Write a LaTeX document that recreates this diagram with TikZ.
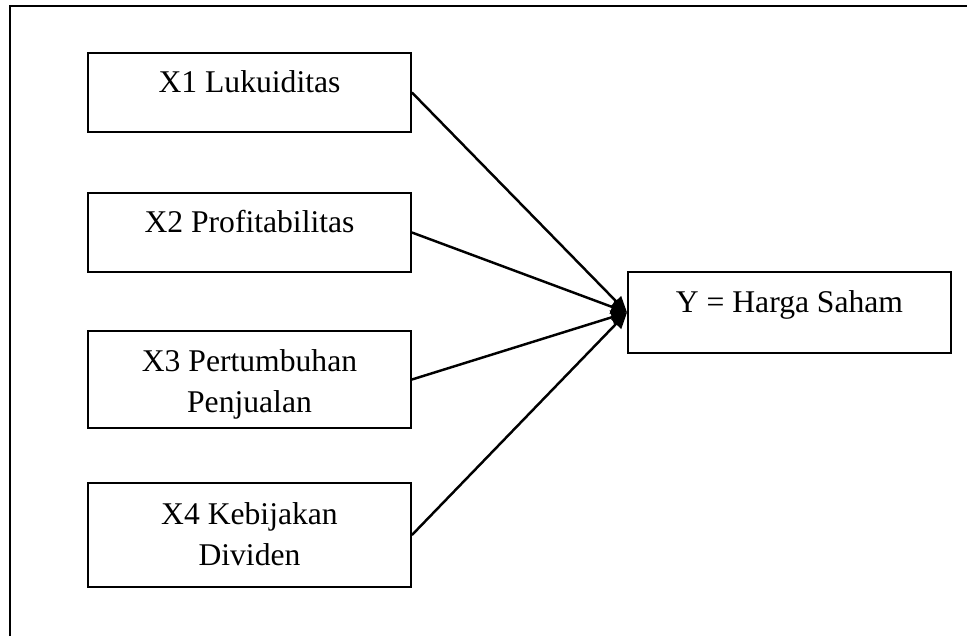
\documentclass[tikz,border=0pt]{standalone}
\usepackage{fontspec}
\setmainfont{Liberation Serif}
\usepackage{tikz}
\usetikzlibrary{arrows.meta,positioning}

\begin{document}
\begin{tikzpicture}[
        x = 0.02cm, y = -0.02cm,
      box/.style = {draw, line width=1.1pt, inner sep=0pt, align=center,
                    minimum width=6.46cm,
                    font=\fontsize{18}{23.3}\selectfont},
every edge/.style = {draw, line width=1.4pt,
                     -{Triangle[length=3.2mm, width=2.8mm]}}
                        ]
    % Fix the size of the page
    \useasboundingbox (0,0) rectangle (967,636);

    % Outer frame (only the left and top sides are in view)
    \draw[line width=1.1pt] (10,636) -- (10,6) -- (967,6);

    % The four independent variables (base = last line)
    \node (x1) at (249.5, 92) [box, anchor=base, text height=0.78cm, text depth=0.8cm]
        {X1 Lukuiditas};
    \node (x2) at (249.5, 232) [box, anchor=base, text height=0.78cm, text depth=0.8cm]
        {X2 Profitabilitas};
    \node (x3) at (249.5, 412) [box, anchor=base, text height=1.62cm, text depth=0.32cm]
        {X3 Pertumbuhan\\Penjualan};
    \node (x4) at (249.5, 565) [box, anchor=base, text height=1.64cm, text depth=0.44cm]
        {X4 Kebijakan\\Dividen};

    % The dependent variable
    \node (y) at (789.5, 312) [box, anchor=base, text height=0.8cm, text depth=0.82cm]
        {Y = Harga Saham};

    \path (x1.east) edge (y.west);
    \path (x2.east) edge (y.west);
    \path (x3.east) edge (y.west);
    \path (x4.east) edge (y.west);

\end{tikzpicture}
\end{document}
